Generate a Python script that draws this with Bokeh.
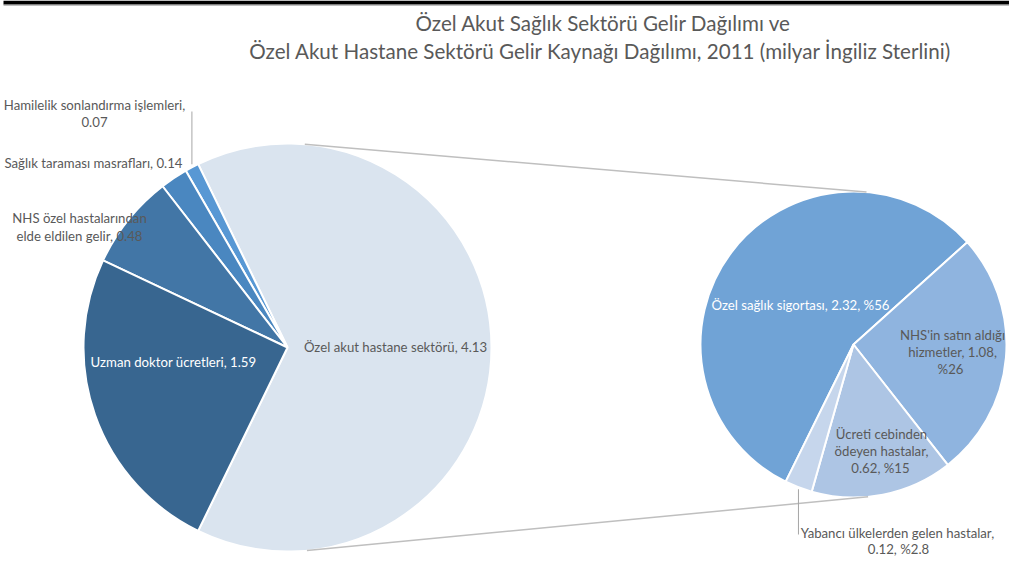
import math
from bokeh.plotting import figure
from bokeh.models import Range1d
from bokeh.core.properties import value
from bokeh.embed import file_html
from bokeh.resources import INLINE

# ---------------- data ----------------
main_labels = ["Özel akut hastane sektörü", "Hamilelik sonlandırma işlemleri",
               "Sağlık taraması masrafları", "NHS özel hastalarından elde eldilen gelir",
               "Uzman doktor ücretleri"]
main_values = [4.13, 0.07, 0.14, 0.48, 1.59]
main_colors = ["#DAE4EF", "#5898D4", "#4A87C0", "#4276A6", "#386690"]

sub_labels = ["Özel sağlık sigortası", "NHS'in satın aldığı hizmetler",
              "Ücreti cebinden ödeyen hastalar", "Yabancı ülkelerden gelen hastalar"]
sub_values = [2.32, 1.08, 0.62, 0.12]
sub_pcts = ["%56", "%26", "%15", "%2.8"]
sub_colors = ["#70A3D6", "#8FB4DF", "#ADC5E4", "#C6D6EC"]

title_lines = ["Özel Akut Sağlık Sektörü Gelir Dağılımı ve",
               "Özel Akut Hastane Sektörü Gelir Kaynağı Dağılımı, 2011 (milyar İngiliz Sterlini)"]

# ---------------- layout (pixel coordinates of the picture) ----------------
H = 574
W_FIG, H_FIG = 1009, 558
def Y(py):
    return H - py

FONT = value("Lato")
GRAY = "#595959"
LBL = "13.2px"

C1 = (287, Y(347)); R1 = 204
C2 = (853, Y(344)); R2 = 153
SUB_START_DEG = 243.7  # clockwise start of the second pie

p = figure(width=W_FIG, height=H_FIG, x_range=Range1d(0, W_FIG), y_range=Range1d(H - H_FIG, H),
           output_backend="svg", toolbar_location=None, min_border=0,
           x_axis_location=None, y_axis_location=None)
p.grid.visible = False
p.outline_line_color = None
p.background_fill_color = "white"
p.border_fill_color = "white"

# top frame bar
p.quad(left=[3], right=[W_FIG], top=[Y(0)], bottom=[Y(4)], fill_color="black", line_color=None)
p.line([3, W_FIG], [Y(4.5), Y(4.5)], line_color="#808080", line_width=1)

# ---------------- first pie (anticlockwise, aggregated slice centred at 0) ----------------
tot1 = sum(main_values)
angs1 = [v / tot1 * 2 * math.pi for v in main_values]
start = -angs1[0] / 2
s1, e1 = [], []
for a in angs1:
    s1.append(start); e1.append(start + a); start += a
p.wedge(x=[C1[0]] * len(main_values), y=[C1[1]] * len(main_values), radius=R1,
        start_angle=s1, end_angle=e1, direction="anticlock",
        fill_color=main_colors, line_color="white", line_width=2)

# ---------------- second pie (clockwise) ----------------
tot2 = sum(sub_values)
angs2 = [v / tot2 * 2 * math.pi for v in sub_values]
start = math.radians(SUB_START_DEG)
s2, e2 = [], []
for a in angs2:
    s2.append(start); e2.append(start - a); start -= a
p.wedge(x=[C2[0]] * len(sub_values), y=[C2[1]] * len(sub_values), radius=R2,
        start_angle=s2, end_angle=e2, direction="clock",
        fill_color=sub_colors, line_color="white", line_width=2)

# ---------------- connector lines: common external tangents ----------------
dx, dy = C2[0] - C1[0], C2[1] - C1[1]
D = math.hypot(dx, dy)
ux, uy = dx / D, dy / D
px_, py_ = -uy, ux
c = (R1 - R2) / D
sq = math.sqrt(1 - c * c)
for sgn in (1, -1):
    nx, ny = c * ux + sgn * sq * px_, c * uy + sgn * sq * py_
    p.line([C1[0] + R1 * nx, C2[0] + R2 * nx], [C1[1] + R1 * ny, C2[1] + R2 * ny],
           line_color="#BFBFBF", line_width=1.5)

# ---------------- leader lines ----------------
mid_h = (s1[1] + e1[1]) / 2
hx, hy = C1[0] + R1 * math.cos(mid_h), C1[1] + R1 * math.sin(mid_h)
p.line([hx, hx], [hy + 3, Y(111)], line_color="#A6A6A6", line_width=1)
mid_y = (s2[3] + e2[3]) / 2
yx, yy = C2[0] + R2 * math.cos(mid_y), C2[1] + R2 * math.sin(mid_y)
p.line([yx, yx], [yy - 2, Y(534)], line_color="#A6A6A6", line_width=1)

# ---------------- texts ----------------
def txt(x, py, s, color=GRAY, size=LBL, align="center"):
    p.text(x=[x], y=[Y(py)], text=[s], text_font=FONT, text_font_size=size,
           text_color=color, text_align=align, text_baseline="middle")

txt(603, 22, title_lines[0], size="20.6px")
txt(600, 50, title_lines[1], size="20.6px")

txt(94, 104, f"{main_labels[1]},")
txt(94, 121, f"{main_values[1]:.2f}")
txt(93, 162, f"{main_labels[2]}, {main_values[2]:.2f}")
txt(79, 217, "NHS özel hastalarından")
txt(79, 235, f"elde eldilen gelir, {main_values[3]:.2f}")
txt(173, 361, f"{main_labels[4]}, {main_values[4]:.2f}", color="white")
txt(395, 346, f"{main_labels[0]}, {main_values[0]:.2f}")

txt(800, 304, f"{sub_labels[0]}, {sub_values[0]:.2f}, {sub_pcts[0]}", color="white")
txt(952, 334, "NHS'in satın aldığı")
txt(952, 351, f"hizmetler, {sub_values[1]:.2f},")
txt(950, 368, sub_pcts[1])
txt(881, 433, "Ücreti cebinden")
txt(881, 450, "ödeyen hastalar,")
txt(880, 467, f"{sub_values[2]:.2f}, {sub_pcts[2]}")
txt(897, 532, f"{sub_labels[3]},")
txt(898, 548, f"{sub_values[3]:.2f}, {sub_pcts[3]}")

open("out.html", "w").write(file_html(p, INLINE))
